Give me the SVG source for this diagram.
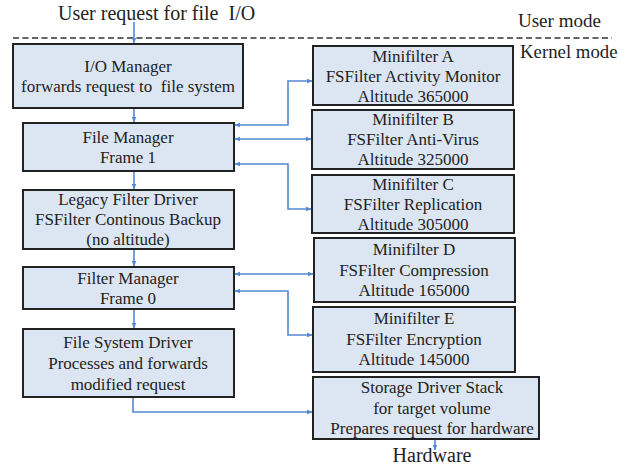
<svg xmlns="http://www.w3.org/2000/svg" width="621" height="467" viewBox="0 0 621 467">
<defs>
<marker id="ah" viewBox="0 0 10 10" refX="9" refY="5" markerWidth="6" markerHeight="6" orient="auto-start-reverse" markerUnits="userSpaceOnUse">
<path d="M0,1 L10,5 L0,9 z" fill="#5289d4"/>
</marker>
<style>
.box{fill:#dce6f2;stroke:#222;stroke-width:2}
.t{font-family:'Liberation Serif',serif;font-size:17px;fill:#222;text-anchor:middle}
.lbl{font-family:'Liberation Serif',serif;fill:#222}
.c{fill:none;stroke:#5289d4;stroke-width:1.6}
</style>
</defs>
<rect width="621" height="467" fill="#fff"/>
<g font-family="Liberation Serif, serif">
<text class="lbl" x="58" y="20" style="font-size:20px" xml:space="preserve">User request for file  I/O</text>
<text class="lbl" x="518" y="27" style="font-size:19px">User mode</text>
<text class="lbl" x="520" y="58" style="font-size:18.8px">Kernel mode</text>
</g>
<line x1="13" y1="38" x2="612" y2="38" stroke="#333" stroke-width="1.6" stroke-dasharray="6,3.5"/>

<g id="io-manager" font-family="Liberation Serif, serif"><rect class="box" x="13" y="44" width="230" height="64"/>
<text class="t" x="128" y="72">I/O Manager</text>
<text class="t" x="128" y="92" xml:space="preserve">forwards request to  file system</text></g>

<g id="file-manager" font-family="Liberation Serif, serif"><rect class="box" x="23" y="123" width="211" height="48"/>
<text class="t" x="128" y="143">File Manager</text>
<text class="t" x="128" y="163">Frame 1</text></g>

<g id="legacy" font-family="Liberation Serif, serif"><rect class="box" x="23" y="190" width="211" height="59"/>
<text class="t" x="128" y="205">Legacy Filter Driver</text>
<text class="t" x="128" y="225">FSFilter Continous Backup</text>
<text class="t" x="128" y="245">(no altitude)</text></g>

<g id="filter-manager" font-family="Liberation Serif, serif"><rect class="box" x="23" y="267" width="211" height="42"/>
<text class="t" x="128" y="284">Filter Manager</text>
<text class="t" x="128" y="304">Frame 0</text></g>

<g id="fs-driver" font-family="Liberation Serif, serif"><rect class="box" x="23" y="329" width="211" height="68"/>
<text class="t" x="128" y="348">File System Driver</text>
<text class="t" x="128" y="369">Processes and forwards</text>
<text class="t" x="128" y="390">modified request</text></g>

<g id="minifilter-a" font-family="Liberation Serif, serif"><rect class="box" x="313" y="46" width="200" height="59"/>
<text class="t" x="413" y="62">Minifilter A</text>
<text class="t" x="413" y="82">FSFilter Activity Monitor</text>
<text class="t" x="413" y="102">Altitude 365000</text></g>

<g id="minifilter-b" font-family="Liberation Serif, serif"><rect class="box" x="312" y="110" width="202" height="59"/>
<text class="t" x="413" y="125">Minifilter B</text>
<text class="t" x="413" y="145">FSFilter Anti-Virus</text>
<text class="t" x="413" y="165">Altitude 325000</text></g>

<g id="minifilter-c" font-family="Liberation Serif, serif"><rect class="box" x="312" y="175" width="202" height="58"/>
<text class="t" x="413" y="190">Minifilter C</text>
<text class="t" x="413" y="210">FSFilter Replication</text>
<text class="t" x="413" y="230">Altitude 305000</text></g>

<g id="minifilter-d" font-family="Liberation Serif, serif"><rect class="box" x="314" y="238" width="201" height="64"/>
<text class="t" x="414" y="255">Minifilter D</text>
<text class="t" x="414" y="276">FSFilter Compression</text>
<text class="t" x="414" y="296">Altitude 165000</text></g>

<g id="minifilter-e" font-family="Liberation Serif, serif"><rect class="box" x="313" y="307" width="202" height="65"/>
<text class="t" x="414" y="324">Minifilter E</text>
<text class="t" x="414" y="345">FSFilter Encryption</text>
<text class="t" x="414" y="365">Altitude 145000</text></g>

<g id="storage" font-family="Liberation Serif, serif"><rect class="box" x="313" y="377" width="226" height="62"/>
<text class="t" x="432" y="393">Storage Driver Stack</text>
<text class="t" x="432" y="414">for target volume</text>
<text class="t" x="432" y="434">Prepares request for hardware</text></g>

<text class="lbl" x="432" y="462" text-anchor="middle" style="font-size:20px">Hardware</text>

<g id="connectors">
<path class="c" d="M134,22 V43" marker-end="url(#ah)"/>
<path class="c" d="M134,109 V122" marker-end="url(#ah)"/>
<path class="c" d="M134,172 V189" marker-end="url(#ah)"/>
<path class="c" d="M134,250 V266" marker-end="url(#ah)"/>
<path class="c" d="M134,310 V328" marker-end="url(#ah)"/>
<path class="c" d="M235,125 H288 V81 H312" marker-start="url(#ah)" marker-end="url(#ah)"/>
<path class="c" d="M235,139 H311" marker-start="url(#ah)" marker-end="url(#ah)"/>
<path class="c" d="M235,164 H288 V209 H311" marker-start="url(#ah)" marker-end="url(#ah)"/>
<path class="c" d="M235,274 H313" marker-start="url(#ah)" marker-end="url(#ah)"/>
<path class="c" d="M235,291 H288 V335 H312" marker-start="url(#ah)" marker-end="url(#ah)"/>
<path class="c" d="M133,398 V412 H312" marker-end="url(#ah)"/>
<path class="c" d="M435,440 V450" marker-end="url(#ah)"/>
</g>
</svg>
